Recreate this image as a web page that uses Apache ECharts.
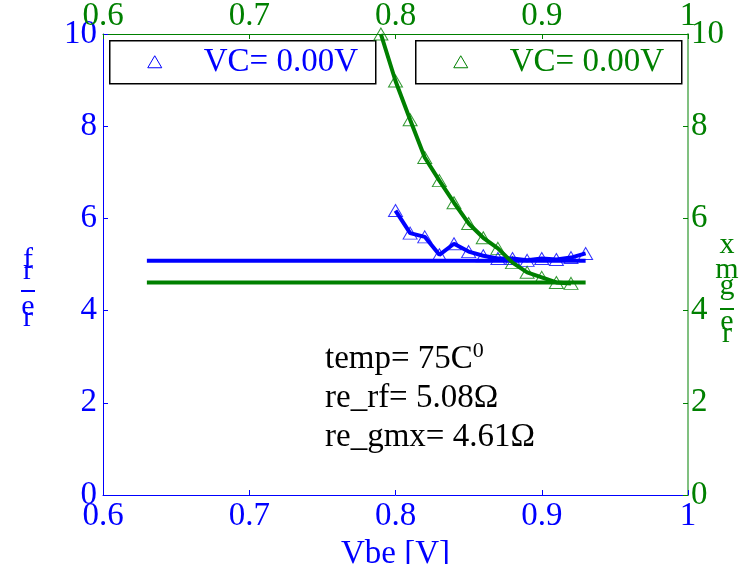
<!DOCTYPE html>
<html><head><meta charset="utf-8">
<script src="https://cdn.jsdelivr.net/npm/echarts@6/dist/echarts.min.js"></script>
<style>html,body{margin:0;padding:0;background:#fff}#c{width:742px;height:564px}</style>
</head><body><div id="c"></div>
<script>
// ---- data ----
const vbeRf  = [0.80,0.81,0.82,0.83,0.84,0.85,0.86,0.87,0.88,0.89,0.90,0.91,0.92,0.93];
const reRf   = [6.17,5.68,5.60,5.21,5.45,5.28,5.19,5.13,5.13,5.09,5.13,5.11,5.15,5.24];
const vbeGmx = [0.79,0.80,0.81,0.82,0.83,0.84,0.85,0.86,0.87,0.88,0.89,0.90,0.91,0.92];
const reGmx  = [10.0,8.98,8.14,7.32,6.82,6.34,5.89,5.58,5.35,5.04,4.83,4.72,4.61,4.59];
const fitX   = [0.63,0.93];
const fitRf  = [5.08,5.08];
const fitGmx = [4.61,4.61];
const legendText = 'VC= 0.00V';
const xLabel = 'Vbe [V]';
const annoLines = ['temp= 75C{sup|0}', 're_rf= 5.08\u03A9', 're_gmx= 4.61\u03A9'];

const BLUE = '#0000ff', GREEN = '#008000';
const FONT = 'Liberation Serif';
const FS = 33;
const zip = (a,b) => a.map((v,i)=>[v,b[i]]);
const fmtX = v => String(+v.toFixed(1));

const chart = echarts.init(document.getElementById('c'), null, {renderer:'canvas'});
function xAx(pos, color){
  return {type:'value', position:pos, min:0.6, max:1, interval:0.1,
    axisLine:{show:true, onZero:false, lineStyle:{color:color, width:1}},
    axisTick:{show:true, inside:true, length:5, lineStyle:{color:color}},
    axisLabel:{color:color, fontFamily:FONT, fontSize:FS, margin:pos==='bottom'?5:1, formatter:fmtX},
    splitLine:{show:false}};
}
function yAx(pos, color, lineColor){
  return {type:'value', position:pos, min:0, max:10, interval:2,
    axisLine:{show:true, onZero:false, lineStyle:{color:lineColor, width:pos==='right'?2:1}},
    axisTick:{show:true, inside:true, length:5, lineStyle:{color:color}},
    axisLabel:{color:color, fontFamily:FONT, fontSize:FS, margin:pos==='left'?6:3},
    splitLine:{show:false}};
}
const xb = xAx('bottom', BLUE);
xb.name = xLabel; xb.nameLocation='middle'; xb.nameGap=43;
xb.nameTextStyle = {color:BLUE, fontFamily:FONT, fontSize:FS};

const leg = (x, color) => ({type:'group', left:x, top:40, children:[
  {type:'rect', shape:{x:0,y:0,width:266,height:43}, style:{fill:'#fff', stroke:'#000', lineWidth:1.5}},
  {type:'polygon', shape:{points:[[45,15],[38,27],[52,27]]}, style:{fill:'none', stroke:color, lineWidth:1}},
  {type:'text', x:94, y:22, style:{text:legendText, fill:color, font:FS+'px "'+FONT+'"', verticalAlign:'middle'}}
]});
const SFS = 30;
const stack = (x, items, color) => items.map(it => it[0] === '-' ?
  {type:'line', shape:{x1:x-7, y1:it[1], x2:x+7, y2:it[1]}, style:{stroke:color, lineWidth:2}} :
  {type:'text', x:x, y:it[1],
   style:{text:it[0], fill:color, font:SFS+'px "'+FONT+'"', align:'center', verticalAlign:'middle'}});

chart.setOption({
  animation:false,
  backgroundColor:'#fff',
  grid:{left:103, right:54, top:34, bottom:69, containLabel:false, outerBoundsMode:'none'},
  xAxis:[xb, xAx('top', GREEN)],
  yAxis:[yAx('left', BLUE, BLUE), yAx('right', GREEN, '#80c080')],
  series:[
    {type:'scatter', xAxisIndex:0, yAxisIndex:0, data:zip(vbeRf,reRf), symbol:'triangle', symbolSize:[14,12],
     itemStyle:{color:'rgba(0,0,0,0)', borderColor:BLUE, borderWidth:1}, z:2},
    {type:'line', xAxisIndex:0, yAxisIndex:0, data:zip(vbeRf,reRf), showSymbol:false,
     lineStyle:{color:BLUE, width:4}, z:3},
    {type:'line', xAxisIndex:0, yAxisIndex:0, data:zip(fitX,fitRf), showSymbol:false,
     lineStyle:{color:BLUE, width:4}, z:3},
    {type:'scatter', xAxisIndex:1, yAxisIndex:1, data:zip(vbeGmx,reGmx), symbol:'triangle', symbolSize:[14,12],
     itemStyle:{color:'rgba(0,0,0,0)', borderColor:GREEN, borderWidth:1}, z:2},
    {type:'line', xAxisIndex:1, yAxisIndex:1, data:zip(vbeGmx,reGmx), showSymbol:false,
     lineStyle:{color:GREEN, width:4}, z:3},
    {type:'line', xAxisIndex:1, yAxisIndex:1, data:zip(fitX,fitGmx), showSymbol:false,
     lineStyle:{color:GREEN, width:4}, z:3}
  ],
  graphic:[
    leg(109, BLUE), leg(415, GREEN),
    {type:'text', left:325, top:340, style:{
      text: annoLines.join('\n'), fill:'#000', font:FS+'px "'+FONT+'"', lineHeight:39,
      rich:{sup:{fontSize:22, verticalAlign:'top', padding:[0,0,16,0], fontFamily:FONT, fill:'#000'}}}},
    ...stack(28, [['f',260],['r',271],['-',291],['e',307],['r',318]], BLUE),
    ...stack(727, [['x',245],['m',270],['g',286],['-',309],['e',322],['r',334]], GREEN)
  ]
});
</script></body></html>
